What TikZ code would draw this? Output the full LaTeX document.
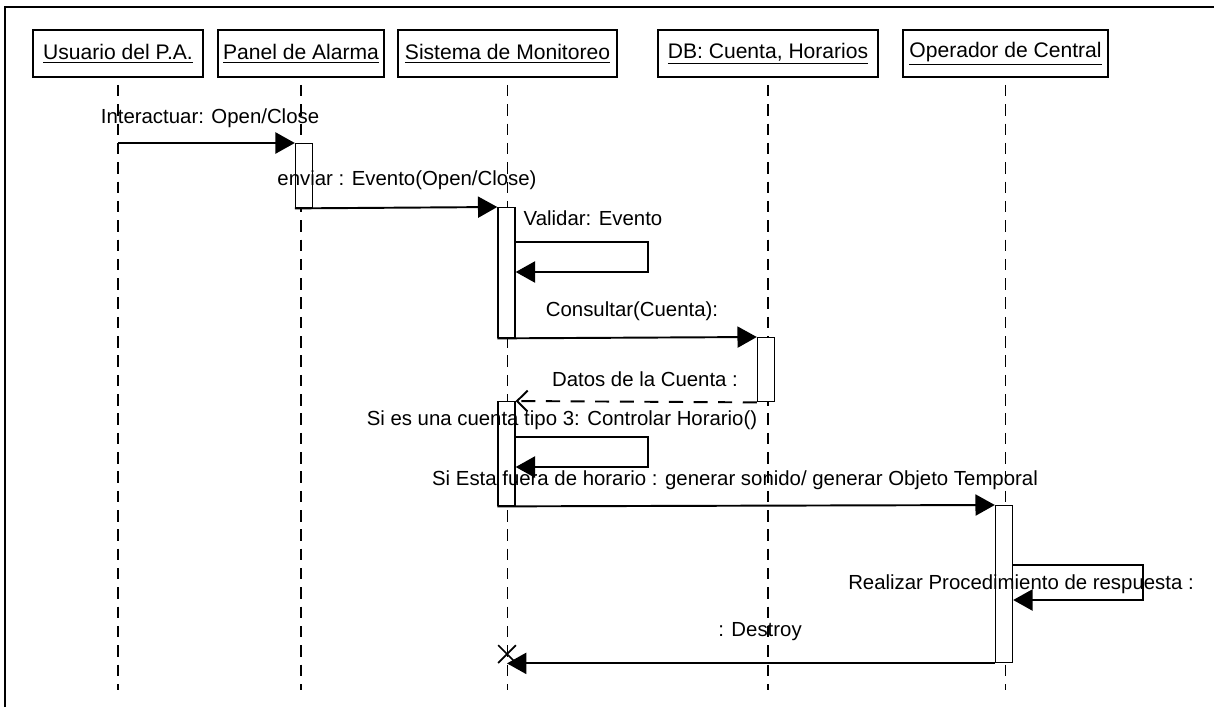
\documentclass[tikz,border=0pt]{standalone}
\usepackage{fontspec}
\setmainfont{Liberation Sans}
\usetikzlibrary{arrows.meta,calc,shapes.misc}

\tikzset{
  obj/.style={draw,line width=1pt,minimum height=0.94cm,inner sep=2pt,font=\fontsize{12}{14}\selectfont},
  life/.style={line width=1pt,dash pattern=on 6.5pt off 4.5pt},
  act/.style={draw,fill=white,line width=0.8pt,minimum width=0.34cm,inner sep=0pt,anchor=north},
  msg/.style={line width=1.1pt,-{Triangle[length=11pt,width=12pt]}},
  ret/.style={line width=1.1pt,dash pattern=on 8pt off 6pt,-{Straight Barb[length=6pt,width=12pt]}},
  lbl/.style={inner sep=0pt,font=\fontsize{11.6}{13}\selectfont}
}

\begin{document}
\begin{tikzpicture}[x=0.02cm,y=-0.02cm]
	\useasboundingbox (0,0) rectangle (1214,707);
	\draw[line width=1.2pt] (5,707) -- (5,7) -- (1214,7);

	% objects
	\node[obj,minimum width=3.4cm] (usr) at (118,53.5) {\underline{Usuario del P.A.}};
	\node[obj,minimum width=3.32cm] (pnl) at (301,53.5) {\underline{Panel de Alarma}};
	\node[obj,minimum width=4.38cm] (sis) at (507.5,53.5) {\underline{Sistema de Monitoreo}};
	\node[obj,minimum width=4.4cm] (db) at (768,53.5) {\underline{DB: Cuenta, Horarios}};
	\node[obj,minimum width=4.1cm] (op) at (1005.5,53.5) {\underline{Operador de Central}};

	% lifelines
	\coordinate (bottom) at (0,690);
	\foreach \o in {usr,pnl,sis,db,op}
		\draw[life,shorten <=4pt] (\o.south) -- (\o.south |- bottom);

	% activations
	\node[act,minimum height=1.28cm] (a2) at (304,143) {};
	\node[act,minimum height=2.6cm] (a3) at (506.5,207) {};
	\node[act,minimum height=1.28cm] (a4) at (766,337) {};
	\node[act,minimum height=2.08cm] (a3b) at (506.5,401) {};
	\node[act,minimum height=3.14cm] (a5) at (1004,505) {};
	\node[draw,cross out,line width=1pt,minimum size=0.32cm,inner sep=0pt] (x3) at (507,654) {};

	% messages
	\draw[msg] (usr |- a2.north) -- (a2.north west);
	\draw[msg] (a2.south west) -- (a3.north west);
	\draw[msg] ($(a3.north east)+(0,35)$) -- ++(132,0) -- ++(0,30) -- ++(-132,0);
	\draw[msg] (a3.south west) -- (a4.north west);
	\draw[ret] (a4.south west) -- (a3b.north east);
	\draw[msg] ($(a3b.north east)+(0,36)$) -- ++(132,0) -- ++(0,30) -- ++(-132,0);
	\draw[msg] (a3b.south west) -- (a5.north west);
	\draw[msg] ($(a5.north east)+(0,60)$) -- ++(130,0) -- ++(0,35) -- ++(-130,0);
	\draw[msg] (a5.south west) -- (x3 |- a5.south);

	% labels
	\node[lbl] (l1) at (210,118) {Interactuar: Open/Close};
	\node[lbl] (l2) at (407,180) {enviar : Evento(Open/Close)};
	\node[lbl] (l3) at (593,218) {Validar: Evento};
	\node[lbl] (l4) at (632,311) {Consultar(Cuenta):};
	\node[lbl] (l5) at (645,379) {Datos de la Cuenta :};
	\node[lbl] (l6) at (562,420) {Si es una cuenta tipo 3: Controlar Horario()};
	\node[lbl] (l7) at (735,480) {Si Esta fuera de horario : generar sonido/ generar Objeto Temporal};
	\node[lbl] (l8) at (1021,584) {Realizar Procedimiento de respuesta :};
	\node[lbl] (l9) at (760,632) {: Destroy};
\end{tikzpicture}
\end{document}
